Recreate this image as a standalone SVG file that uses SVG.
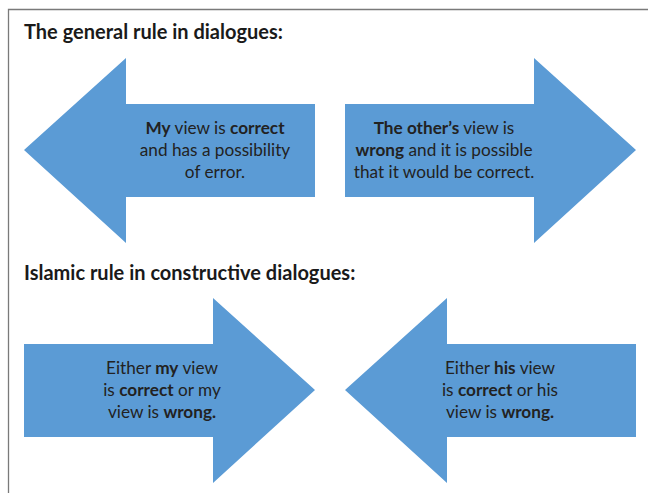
<svg xmlns="http://www.w3.org/2000/svg" width="648" height="493" viewBox="0 0 648 493">
<style>
.frame{fill:none;stroke:#7a7a7a;stroke-width:1.3}
.arrow{fill:#5b9bd5;stroke:none}
.title{font-family:Lato,"Open Sans","Liberation Sans",sans-serif;font-weight:bold;font-size:20px;fill:#1a1a1a}
.body{font-family:Lato,"Open Sans","Liberation Sans",sans-serif;font-size:17.2px;fill:#222;text-anchor:middle}
.b{font-weight:bold}
</style>
<rect width="648" height="493" fill="#ffffff"/>
<path class="frame" d="M8.5,493 V9.5 H648"/>
<text class="title" x="24" y="39">The general rule in dialogues:</text>
<text class="title" x="24" y="280">Islamic rule in constructive dialogues:</text>
<g id="connectors"></g>
<g id="node-my-view">
<polygon class="arrow" points="24,150 126,58 126,104 315,104 315,197 126,197 126,243"/>
<text class="body" x="215" y="134"><tspan class="b">My</tspan> view is <tspan class="b">correct</tspan></text>
<text class="body" x="215" y="156">and has a possibility</text>
<text class="body" x="215" y="178">of error.</text>
</g>
<g id="node-other-view">
<polygon class="arrow" points="636,150 534,58 534,104 345,104 345,197 534,197 534,243"/>
<text class="body" x="444" y="134"><tspan class="b">The other’s</tspan> view is</text>
<text class="body" x="444" y="156"><tspan class="b">wrong</tspan> and it is possible</text>
<text class="body" x="444" y="178">that it would be correct.</text>
</g>
<g id="node-either-my">
<polygon class="arrow" points="315,390 213,298 213,344 24,344 24,437 213,437 213,483"/>
<text class="body" x="162" y="374">Either <tspan class="b">my</tspan> view</text>
<text class="body" x="162" y="396">is <tspan class="b">correct</tspan> or my</text>
<text class="body" x="162" y="418">view is <tspan class="b">wrong.</tspan></text>
</g>
<g id="node-either-his">
<polygon class="arrow" points="345,390 447,298 447,344 636,344 636,437 447,437 447,483"/>
<text class="body" x="500" y="374">Either <tspan class="b">his</tspan> view</text>
<text class="body" x="500" y="396">is <tspan class="b">correct</tspan> or his</text>
<text class="body" x="500" y="418">view is <tspan class="b">wrong.</tspan></text>
</g>
</svg>
